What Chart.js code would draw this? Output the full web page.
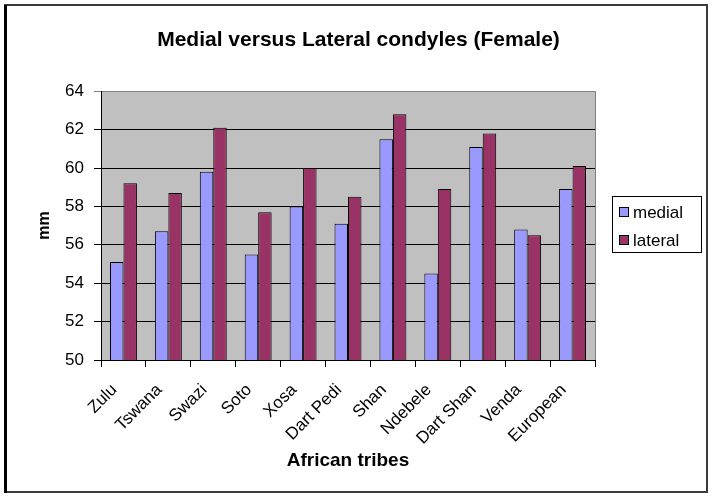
<!DOCTYPE html>
<html>
<head>
<meta charset="utf-8">
<script src="https://cdn.jsdelivr.net/npm/chart.js@4/dist/chart.umd.min.js"></script>
<style>
  body { margin: 0; background: #fff; }
  #wrap { width: 717px; height: 503px; }
</style>
</head>
<body>
<div id="wrap"><canvas id="condyleChart" width="717" height="503"></canvas></div>
<script>
const tribes = ["Zulu", "Tswana", "Swazi", "Soto", "Xosa", "Dart Pedi", "Shan", "Ndebele", "Dart Shan", "Venda", "European"];
const medial = [55.1, 56.7, 59.8, 55.5, 58.0, 57.1, 61.5, 54.5, 61.1, 56.8, 58.9];
const lateral = [59.2, 58.7, 62.1, 57.7, 60.0, 58.5, 62.8, 58.9, 61.8, 56.5, 60.1];
const yTicks = [50, 52, 54, 56, 58, 60, 62, 64];

const FONT = "'Liberation Sans', Arial, sans-serif";
const medialColor = "#9999FF";
const lateralColor = "#993366";

// grey plot background, grey right edge, legend box and outer frame
const excelLook = {
  id: "excelLook",
  beforeDraw(chart) {
    const c = chart.ctx;
    const a = chart.chartArea;
    c.save();
    c.fillStyle = "#fff";
    c.fillRect(0, 0, chart.width, chart.height);
    c.fillStyle = "#C0C0C0";
    c.fillRect(a.left, a.top, a.right - a.left, a.bottom - a.top);
    c.restore();
  },
  afterDraw(chart) {
    const c = chart.ctx;
    const a = chart.chartArea;
    c.save();
    c.strokeStyle = "#808080";
    c.lineWidth = 1;
    c.beginPath();
    c.moveTo(Math.round(a.right) + 0.5, a.top);
    c.lineTo(Math.round(a.right) + 0.5, a.bottom);
    c.stroke();

    // legend
    c.strokeStyle = "#000";
    c.strokeRect(612.5, 196.5, 89, 56);
    const items = [["medial", medialColor, 212], ["lateral", lateralColor, 240]];
    c.font = "17px " + FONT;
    c.textBaseline = "middle";
    items.forEach(([label, col, y]) => {
      c.fillStyle = col;
      c.fillRect(619.5, y - 4.5, 9, 9);
      c.strokeRect(619.5, y - 4.5, 9, 9);
      c.fillStyle = "#000";
      c.fillText(label, 633, y + 1);
    });

    // outer frame
    c.strokeStyle = "#3a3a3a";
    c.lineWidth = 2;
    c.strokeRect(5, 5, 702, 487);
    c.fillStyle = "#000";
    c.fillRect(4, 5, 3, 488);
    c.restore();
  },
};

const data = {
  labels: tribes,
  datasets: [
    {
      label: "medial",
      data: medial,
      backgroundColor: medialColor,
      borderColor: "#000",
      borderWidth: 1,
    },
    {
      label: "lateral",
      data: lateral,
      backgroundColor: lateralColor,
      borderColor: "#000",
      borderWidth: 1,
    },
  ],
};

const config = {
  type: "bar",
  data: data,
  options: {
    responsive: false,
    animation: false,
    devicePixelRatio: 1,
    categoryPercentage: 0.6,
    barPercentage: 1.0,
    layout: {
      padding: 0,
    },
    plugins: {
      legend: { display: false },
      tooltip: { enabled: false },
      title: {
        display: true,
        text: "Medial versus Lateral condyles (Female)",
        color: "#000",
        font: { family: FONT, size: 21, weight: "bold" },
        padding: { top: 28, bottom: 38 },
      },
    },
    scales: {
      x: {
        afterFit: (scale) => { scale.height = 143; },
        grid: {
          offset: true,
          drawOnChartArea: false,
          color: "#000",
          tickLength: 7,
        },
        border: { display: true, color: "#000" },
        ticks: {
          color: "#000",
          font: { family: FONT, size: 17 },
          minRotation: 45,
          maxRotation: 45,
          autoSkip: false,
          padding: 13,
          labelOffset: -9,
        },
        title: {
          display: true,
          text: "African tribes",
          color: "#000",
          font: { family: FONT, size: 19, weight: "bold" },
          padding: { top: 0, bottom: 31 },
        },
      },
      y: {
        min: 50,
        max: 64,
        afterFit: (scale) => { scale.width = 101; },
        afterBuildTicks: (scale) => { scale.ticks = yTicks.map((v) => ({ value: v })); },
        grid: {
          color: (ctx) => (ctx.tick && ctx.tick.value === 64 && ctx.type === "tick" ? "#808080" : "#000"),
          tickLength: 7,
        },
        border: { display: true, color: "#000" },
        ticks: {
          color: "#000",
          font: { family: FONT, size: 17 },
          padding: 10,
        },
        title: {
          display: true,
          text: "mm",
          color: "#000",
          font: { family: FONT, size: 16, weight: "bold" },
          padding: { top: 35, bottom: 0 },
        },
      },
      // empty right-hand axis that reserves the room the legend sits in
      legendRoom: {
        position: "right",
        display: true,
        afterFit: (scale) => { scale.width = 122; },
        grid: { display: false, drawTicks: false },
        border: { display: false },
        ticks: { display: false },
      },
    },
  },
  plugins: [excelLook],
};

const condyleChart = new Chart(document.getElementById("condyleChart"), config);
</script>
</body>
</html>
